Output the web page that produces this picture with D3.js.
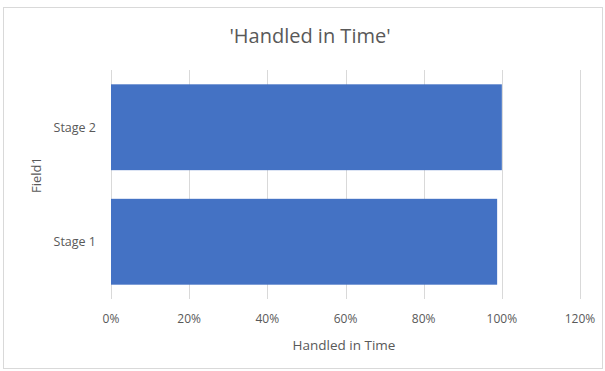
<!DOCTYPE html>
<html>
<head>
<meta charset="utf-8">
<script src="https://cdn.jsdelivr.net/npm/d3@7"></script>
<style>
  body { margin: 0; background: #fff; }
  text { font-family: "Open Sans", "Noto Sans", sans-serif; fill: #595959; }
</style>
</head>
<body>
<div id="container"></div>
<script>
const categories = ["Stage 2", "Stage 1"];
const values = [1.0, 0.988];
const xTicks = [0, 0.2, 0.4, 0.6, 0.8, 1.0, 1.2];

const width = 605, height = 371;
const margin = {top: 70, right: 25, bottom: 72, left: 111};

const svg = d3.select("#container")
  .append("svg")
  .attr("width", width)
  .attr("height", height);

// chart border
svg.append("rect")
  .attr("x", 3.5).attr("y", 7.5)
  .attr("width", width - 6).attr("height", height - 10)
  .attr("fill", "#fff")
  .attr("stroke", "#d9d9d9");

const x = d3.scaleLinear()
  .domain([0, 1.2])
  .range([margin.left, width - margin.right]);

const y = d3.scaleBand()
  .domain(categories)
  .range([margin.top, height - margin.bottom])
  .paddingInner(0.25)
  .paddingOuter(0.125);

// gridlines
svg.append("g")
  .selectAll("line")
  .data(xTicks)
  .join("line")
  .attr("x1", d => Math.round(x(d)) + 0.5)
  .attr("x2", d => Math.round(x(d)) + 0.5)
  .attr("y1", margin.top)
  .attr("y2", height - margin.bottom)
  .attr("stroke", "#d9d9d9")
  .attr("stroke-width", 1);

// bars
svg.append("g")
  .selectAll("rect")
  .data(categories.map((c, i) => ({c, v: values[i]})))
  .join("rect")
  .attr("x", x(0))
  .attr("y", d => y(d.c))
  .attr("width", d => x(d.v) - x(0))
  .attr("height", y.bandwidth())
  .attr("fill", "#4472c4");

// x tick labels
svg.append("g")
  .selectAll("text")
  .data(xTicks)
  .join("text")
  .attr("x", d => x(d))
  .attr("y", 318)
  .attr("text-anchor", "middle")
  .attr("dominant-baseline", "central")
  .attr("font-size", "12px")
  .text(d3.format(".0%"));

// y tick labels
svg.append("g")
  .selectAll("text")
  .data(categories)
  .join("text")
  .attr("x", 96)
  .attr("y", d => y(d) + y.bandwidth() / 2)
  .attr("text-anchor", "end")
  .attr("dominant-baseline", "central")
  .attr("font-size", "12.5px")
  .text(d => d);

// title
svg.append("text")
  .attr("x", 310)
  .attr("y", 35)
  .attr("text-anchor", "middle")
  .attr("dominant-baseline", "central")
  .attr("font-size", "20px")
  .text("'Handled in Time'");

// x axis title
svg.append("text")
  .attr("x", 344)
  .attr("y", 345)
  .attr("text-anchor", "middle")
  .attr("dominant-baseline", "central")
  .attr("font-size", "13.5px")
  .text("Handled in Time");

// y axis title
svg.append("text")
  .attr("transform", "translate(36,175) rotate(-90)")
  .attr("text-anchor", "middle")
  .attr("dominant-baseline", "central")
  .attr("font-size", "13px")
  .text("Field1");
</script>
</body>
</html>
